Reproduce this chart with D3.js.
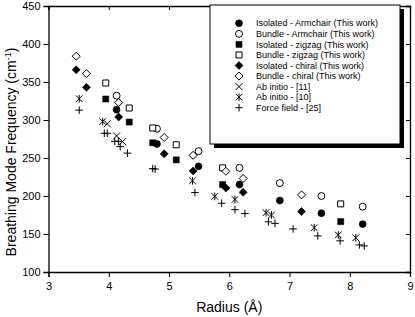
<!DOCTYPE html>
<html>
<head>
<meta charset="utf-8">
<script src="https://cdn.jsdelivr.net/npm/d3@7/dist/d3.min.js"></script>
<style>
  body { margin: 0; background: #fff; }
  svg { display: block; font-family: Arial, "Liberation Sans", sans-serif; }
</style>
</head>
<body>
<div class="canvas"></div>
<script>
// values (radius in Angstrom, frequency in cm-1)
var isoArmchair = [[4.13, 313.5], [4.80, 268.5], [5.49, 239], [6.17, 215], [6.84, 194], [7.53, 177.4], [8.215, 163]]
var bunArmchair = [[4.13, 332], [4.80, 288.5], [5.49, 259], [6.17, 237], [6.84, 217], [7.53, 200], [8.215, 186]]
var isoZigzag = [[3.95, 327.6], [4.34, 297.3], [4.73, 270], [5.12, 247.5], [5.89, 215], [7.85, 166.3]]
var bunZigzag = [[3.95, 348.7], [4.34, 315.8], [4.73, 289.5], [5.12, 267.4], [5.89, 237], [7.85, 189.6]]
var isoChiral = [[3.46, 366], [3.63, 343], [4.165, 304], [4.92, 255.5], [5.40, 233], [5.945, 210.5], [6.23, 204.8], [7.20, 179.5]]
var bunChiral = [[3.46, 384], [3.63, 361], [4.165, 323], [4.92, 277], [5.40, 253.5], [5.945, 232.5], [6.23, 223], [7.20, 201.5]]
var abInitio11 = [[3.976, 295], [4.13, 279], [4.23, 271.5]]
var abInitio10 = [[3.51, 328], [3.90, 298], [5.39, 220], [5.76, 199.5], [6.095, 195.5], [6.61, 178], [6.70, 175], [7.41, 158.4], [7.81, 148.8], [8.10, 145]]
var forceField = [[3.51, 313], [3.926, 282.5], [3.976, 282.5], [4.10, 272], [4.16, 272], [4.19, 265], [4.31, 256.4],
  [4.73, 236], [4.77, 235.5], [5.43, 204.5], [5.875, 190.5], [6.095, 182], [6.26, 177], [6.65, 166], [6.76, 164],
  [7.06, 156.7], [7.47, 147.5], [7.84, 141], [8.16, 135.6], [8.24, 134.3]]

var seriesNames = ["Isolated - Armchair (This work)", "Bundle - Armchair (This work)", "Isolated - zigzag (This work)",
  "Bundle - zigzag (This work)", "Isolated - chiral (This work)", "Bundle - chiral (This work)",
  "Ab initio - [11]", "Ab initio - [10]", "Force field - [25]"]
var xTicks = [3, 4, 5, 6, 7, 8, 9]
var yTicks = [100, 150, 200, 250, 300, 350, 400, 450]

var series = [
  {name: seriesNames[0], data: isoArmchair, shape: "circle", fill: true},
  {name: seriesNames[1], data: bunArmchair, shape: "circle", fill: false},
  {name: seriesNames[2], data: isoZigzag, shape: "square", fill: true},
  {name: seriesNames[3], data: bunZigzag, shape: "square", fill: false},
  {name: seriesNames[4], data: isoChiral, shape: "diamond", fill: true},
  {name: seriesNames[5], data: bunChiral, shape: "diamond", fill: false},
  {name: seriesNames[6], data: abInitio11, shape: "cross"},
  {name: seriesNames[7], data: abInitio10, shape: "star"},
  {name: seriesNames[8], data: forceField, shape: "plus"}
]

var width = 415, height = 317
var plotL = 48.5, plotR = 410, plotT = 6, plotB = 272

var x = d3.scaleLinear().domain([3, 9]).range([plotL, plotR])
var y = d3.scaleLinear().domain([100, 450]).range([plotB, plotT])

var svg = d3.select(".canvas").append("svg")
  .attr("width", width)
  .attr("height", height)

// marker paths, centred on 0,0
function markerPath(shape) {
  if (shape == "circle") return d3.symbol(d3.symbolCircle, 38)()
  if (shape == "square") return "M-3,-3H3V3H-3Z"
  if (shape == "diamond") return "M0,-4L4,0L0,4L-4,0Z"
  if (shape == "cross") return "M-3.5,-3.5L3.5,3.5M-3.5,3.5L3.5,-3.5"
  if (shape == "star") return "M-3.3,-3.3L3.3,3.3M-3.3,3.3L3.3,-3.3M0,-3.8V3.8"
  if (shape == "plus") return "M-3.8,0H3.8M0,-3.8V3.8"
}

function drawMarker(sel, s) {
  var lineOnly = s.shape == "cross" || s.shape == "star" || s.shape == "plus"
  sel.append("path")
    .attr("d", markerPath(s.shape))
    .attr("fill", lineOnly ? "none" : (s.fill ? "#000" : "#fff"))
    .attr("stroke", "#000")
    .attr("stroke-width", lineOnly ? 1 : (s.fill ? 0.6 : 1))
}

// axes
var gx = svg.append("g").attr("transform", "translate(0," + plotB + ")")
gx.call(d3.axisBottom(x).tickValues(d3.range(3.5, 9, 1)).tickSize(3).tickFormat(""))
gx.call(d3.axisBottom(x).tickValues(xTicks).tickSize(5).tickPadding(5).tickFormat(d3.format("d")))

var gxt = svg.append("g").attr("transform", "translate(0," + plotT + ")")
gxt.call(d3.axisTop(x).tickValues(d3.range(3.5, 9, 1)).tickSize(-3).tickFormat(""))
gxt.call(d3.axisTop(x).tickValues(xTicks).tickSize(-4).tickFormat(""))

var gy = svg.append("g").attr("transform", "translate(" + plotL + ",0)")
gy.call(d3.axisLeft(y).tickValues(d3.range(125, 450, 50)).tickSize(3).tickFormat(""))
gy.call(d3.axisLeft(y).tickValues(yTicks).tickSize(5).tickPadding(3).tickFormat(d3.format("d")))

var gyr = svg.append("g").attr("transform", "translate(" + plotR + ",0)")
gyr.call(d3.axisRight(y).tickValues(d3.range(125, 450, 50)).tickSize(-3).tickFormat(""))
gyr.call(d3.axisRight(y).tickValues(yTicks).tickSize(-4).tickFormat(""))

svg.selectAll(".domain").attr("stroke", "#000").attr("stroke-width", 1.3)
svg.selectAll(".tick line").attr("stroke", "#000").attr("stroke-width", 1)
svg.selectAll(".tick text").attr("fill", "#000").style("font-size", "11px").style("font-family", "Arial, 'Liberation Sans', sans-serif")

// points
series.forEach(function (s) {
  var g = svg.append("g")
  g.selectAll("g")
    .data(s.data)
    .enter()
    .append("g")
    .attr("transform", function (d) { return "translate(" + x(d[0]) + "," + y(d[1]) + ")" })
    .each(function () { drawMarker(d3.select(this), s) })
})

// legend
var legend = svg.append("g")
legend.append("rect").attr("x", 214).attr("y", 9).attr("width", 190).attr("height", 139).attr("fill", "#000")
legend.append("rect").attr("x", 210).attr("y", 5).attr("width", 190).attr("height", 139)
  .attr("fill", "#fff").attr("stroke", "#000").attr("stroke-width", 1)

var items = legend.selectAll("g.item")
  .data(series)
  .enter()
  .append("g")
  .attr("class", "item")
  .attr("transform", function (d, i) { return "translate(239," + (23.3 + i * 10.55) + ")" })
items.each(function (s) { drawMarker(d3.select(this), s) })
items.append("text")
  .attr("x", 17)
  .attr("y", 0)
  .attr("dy", "0.35em")
  .style("font-size", "9px")
  .text(function (d) { return d.name })

// axis titles
svg.append("text")
  .attr("x", (plotL + plotR) / 2)
  .attr("y", 311.5)
  .attr("text-anchor", "middle")
  .style("font-size", "14px")
  .text("Radius (Å)")

var yt = svg.append("text")
  .attr("transform", "translate(15.5,152) rotate(-90)")
  .attr("text-anchor", "middle")
  .style("font-size", "14px")
yt.append("tspan").text("Breathing Mode Frequency (cm")
yt.append("tspan").attr("dy", -5).style("font-size", "9px").text("-1")
yt.append("tspan").attr("dy", 5).text(")")
</script>
</body>
</html>
